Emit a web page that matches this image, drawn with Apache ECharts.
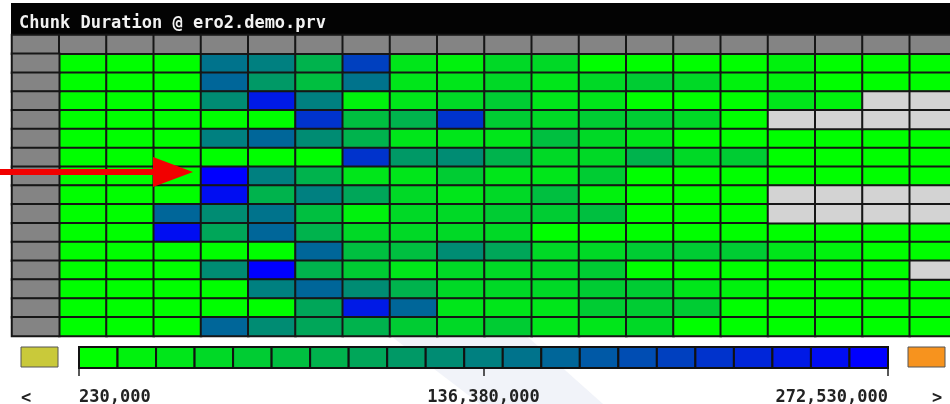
<!DOCTYPE html>
<html>
<head>
<meta charset="utf-8">
<script src="https://cdn.jsdelivr.net/npm/echarts@6/dist/echarts.min.js"></script>
<style>
  html, body { margin: 0; padding: 0; background: #fff; }
  #chart { width: 950px; height: 404px; }
</style>
</head>
<body>
<div id="chart"></div>
<script>
// columns (chunks) and rows (time slots); index 0 is the gray header
var chunkCols = ['', '1', '2', '3', '4', '5', '6', '7', '8', '9', '10',
    '11', '12', '13', '14', '15', '16', '17', '18', '19'];
var timeRows = ['', '1', '2', '3', '4', '5', '6', '7', '8', '9', '10',
    '11', '12', '13', '14', '15'];

// chunk duration per cell, in millions; null = no data
var row01 = [7, 7, 7, 149, 136, 85, 201, 33, 20, 46, 46, 7, 7, 7, 7, 20, 7, 7, 7];
var row02 = [7, 7, 7, 162, 110, 72, 149, 33, 33, 46, 33, 46, 59, 46, 20, 20, 7, 7, 7];
var row03 = [7, 7, 7, 123, 240, 136, 20, 33, 46, 59, 33, 33, 7, 7, 7, 33, 20, null, null];
var row04 = [7, 7, 7, 7, 7, 214, 72, 85, 214, 59, 46, 59, 59, 46, 7, null, null, null, null];
var row05 = [7, 7, 7, 136, 162, 123, 85, 33, 33, 33, 72, 46, 33, 7, 7, 7, 7, 7, 7];
var row06 = [7, 7, 7, 7, 7, 7, 214, 110, 123, 85, 46, 46, 85, 46, 59, 7, 7, 7, 7];
var row07 = [7, 7, 7, 266, 136, 85, 33, 33, 59, 33, 33, 59, 7, 7, 7, 7, 7, 7, 7];
var row08 = [7, 7, 7, 253, 85, 136, 98, 46, 33, 46, 72, 20, 7, 7, 7, null, null, null, null];
var row09 = [7, 7, 162, 123, 149, 72, 20, 46, 46, 59, 59, 72, 7, 7, 7, null, null, null, null];
var row10 = [7, 7, 253, 98, 162, 85, 46, 46, 46, 46, 7, 7, 7, 7, 7, 7, 7, 7, 7];
var row11 = [7, 7, 7, 7, 7, 162, 72, 72, 123, 98, 46, 46, 59, 59, 59, 33, 20, 7, 7];
var row12 = [7, 7, 7, 123, 266, 85, 59, 33, 46, 46, 46, 59, 7, 7, 7, 7, 7, 7, null];
var row13 = [7, 7, 7, 7, 136, 162, 123, 85, 46, 46, 46, 59, 59, 33, 20, 7, 7, 7, 7];
var row14 = [7, 7, 7, 7, 7, 98, 240, 162, 33, 33, 33, 59, 59, 59, 7, 7, 7, 7, 7];
var row15 = [7, 7, 7, 162, 123, 98, 85, 59, 46, 59, 33, 33, 46, 7, 7, 7, 7, 7, 7];
var rows = [row01, row02, row03, row04, row05, row06, row07, row08,
    row09, row10, row11, row12, row13, row14, row15];

// legend scale
var legendMin = 230000;
var legendMax = 272530000;
var pieceCount = 21;
var legendTicks = [230000, 136380000, 272530000];

var cellData = [];
var emptyData = [];
var headerData = [];
chunkCols.forEach(function (c, x) {
    headerData.push([x, 0, 0]);
});
timeRows.forEach(function (r, y) {
    if (y > 0) {
        headerData.push([0, y, 0]);
    }
});
rows.forEach(function (row, i) {
    row.forEach(function (v, j) {
        if (v === null) {
            emptyData.push([j + 1, i + 1, 0]);
        } else {
            cellData.push([j + 1, i + 1, v * 1e6]);
        }
    });
});

var step = (legendMax - legendMin) / pieceCount;
var pieceData = [];
for (var k = 0; k < pieceCount; k++) {
    var lo = legendMin + k * step;
    pieceData.push([lo, lo + step, lo + step / 2]);
}

var border = {borderColor: '#161616', borderWidth: 2};
var mono = 'DejaVu Sans Mono';
var arrowRed = '#f20000';

var chart = echarts.init(document.getElementById('chart'));
var option = {
    animation: false,
    backgroundColor: '#fff',
    title: {
        text: 'Chunk Duration @ ero2.demo.prv',
        left: 19,
        top: 15,
        padding: 0,
        textStyle: {color: '#f2f2f2', fontFamily: mono, fontSize: 17, fontWeight: 'bold'}
    },
    grid: [
        {left: 12, right: -7, top: 35, bottom: 68, outerBoundsMode: 'none'},
        {left: 79, right: 62, top: 347, height: 21, outerBoundsMode: 'none'}
    ],
    xAxis: [
        {type: 'category', data: chunkCols, show: false},
        {
            type: 'value', gridIndex: 1, min: legendMin, max: legendMax,
            axisLine: {show: false},
            splitLine: {show: false},
            axisTick: {show: true, length: 8, customValues: legendTicks,
                lineStyle: {color: '#222', width: 1.5}},
            axisLabel: {
                customValues: legendTicks,
                margin: 21,
                alignMinLabel: 'left',
                alignMaxLabel: 'right',
                color: '#222',
                fontFamily: mono,
                fontSize: 17,
                fontWeight: 'bold',
                formatter: function (v) {
                    return Number(v).toLocaleString('en-US');
                }
            }
        }
    ],
    yAxis: [
        {type: 'category', data: timeRows, inverse: true, show: false},
        {type: 'value', gridIndex: 1, min: 0, max: 1, show: false}
    ],
    visualMap: {
        type: 'piecewise',
        show: false,
        min: legendMin,
        max: legendMax,
        splitNumber: pieceCount,
        dimension: 2,
        seriesIndex: [0, 3],
        inRange: {color: ['#00ff00', '#0000ff']}
    },
    graphic: [
        {type: 'polygon', z: -10, silent: true,
            shape: {points: [[383, 330], [520, 330], [603, 404], [480, 404]]},
            style: {fill: '#f1f3f9'}},
        {type: 'rect', z: -5, silent: true,
            shape: {x: 11, y: 3, width: 940, height: 33},
            style: {fill: '#030303'}},
        {type: 'rect', silent: true,
            shape: {x: 21, y: 347, width: 37, height: 20},
            style: {fill: '#c9c93a', stroke: '#555', lineWidth: 1}},
        {type: 'rect', silent: true,
            shape: {x: 908, y: 347, width: 37, height: 20},
            style: {fill: '#f7931e', stroke: '#555', lineWidth: 1}},
        {type: 'text', silent: true, x: 21, y: 390,
            style: {text: '<', fill: '#222', font: 'bold 17px "DejaVu Sans Mono"'}},
        {type: 'text', silent: true, x: 932, y: 390,
            style: {text: '>', fill: '#222', font: 'bold 17px "DejaVu Sans Mono"'}},
        {type: 'rect', z: 100, zlevel: 1, silent: true,
            shape: {x: 0, y: 169, width: 156, height: 6},
            style: {fill: arrowRed}},
        {type: 'polygon', z: 100, zlevel: 1, silent: true,
            shape: {points: [[153, 157], [193, 172], [153, 187]]},
            style: {fill: arrowRed}}
    ],
    series: [
        {
            name: 'duration',
            type: 'heatmap',
            data: cellData,
            itemStyle: border,
            emphasis: {disabled: true}
        },
        {
            name: 'header',
            type: 'heatmap',
            data: headerData,
            itemStyle: {color: '#848484', borderColor: '#161616', borderWidth: 2},
            emphasis: {disabled: true}
        },
        {
            name: 'empty',
            type: 'heatmap',
            data: emptyData,
            itemStyle: {color: '#d3d3d3', borderColor: '#161616', borderWidth: 2},
            emphasis: {disabled: true}
        },
        {
            name: 'legend',
            type: 'custom',
            xAxisIndex: 1,
            yAxisIndex: 1,
            data: pieceData,
            encode: {x: [0, 1]},
            renderItem: function (params, api) {
                var p0 = api.coord([api.value(0), 0]);
                var p1 = api.coord([api.value(1), 1]);
                return {
                    type: 'rect',
                    shape: {x: p0[0], y: p1[1], width: p1[0] - p0[0], height: p0[1] - p1[1]},
                    style: {fill: api.visual('color'), stroke: '#111', lineWidth: 2}
                };
            }
        }
    ]
};
chart.setOption(option);
</script>
</body>
</html>
